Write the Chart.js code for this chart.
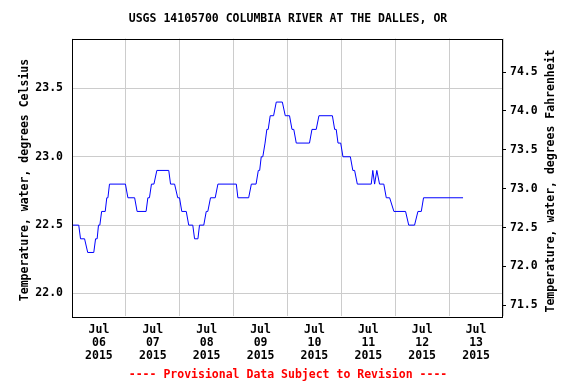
<!DOCTYPE html>
<html>
<head>
<meta charset="utf-8">
<script src="https://cdn.jsdelivr.net/npm/chart.js@4/dist/chart.umd.min.js"></script>
<style>
  body { margin: 0; background: #fff; }
  #chart { display: block; }
</style>
</head>
<body>
<canvas id="chart" width="576" height="384"></canvas>
<script>
// hours after Jul 06 2015 00:00, and water temperature (deg C)
var hours = [0, 3.0, 3.8, 5.6, 7.0, 9.7, 10.5, 11.2, 11.8, 12.4, 13.2, 14.8, 15.5, 16.0, 16.7, 23.8,
  24.9, 27.9, 29.0, 33.0, 33.8, 34.5, 35.4, 36.5, 37.8, 43.1, 43.9, 45.7, 47.1, 47.9,
  48.9, 50.9, 52.0, 53.8, 54.6, 56.1, 56.8, 58.7, 59.8, 60.5, 61.7, 63.8, 65.0, 73.2, 73.9, 78.7,
  79.9, 82.0, 83.0, 83.6, 84.3, 85.0, 86.0, 86.8, 87.4, 88.3, 89.8, 91.0, 93.7, 95.0, 96.9,
  98.0, 98.8, 99.9, 105.8, 106.9, 108.8, 110.0, 116.0, 117.0, 117.7, 118.5, 119.7,
  120.7, 124.0, 125.1, 125.9, 127.1, 133.3, 134.0, 134.8, 135.8, 137.0, 138.9, 140.0, 141.5,
  143.4, 148.6, 150.0, 152.6, 154.1, 155.6, 156.6, 174.2];
var tempC = [22.5, 22.5, 22.4, 22.4, 22.3, 22.3, 22.4, 22.4, 22.5, 22.5, 22.6, 22.6, 22.7, 22.7, 22.8, 22.8,
  22.7, 22.7, 22.6, 22.6, 22.7, 22.7, 22.8, 22.8, 22.9, 22.9, 22.8, 22.8, 22.7, 22.7,
  22.6, 22.6, 22.5, 22.5, 22.4, 22.4, 22.5, 22.5, 22.6, 22.6, 22.7, 22.7, 22.8, 22.8, 22.7, 22.7,
  22.8, 22.8, 22.9, 22.9, 23.0, 23.0, 23.1, 23.2, 23.2, 23.3, 23.3, 23.4, 23.4, 23.3, 23.3,
  23.2, 23.2, 23.1, 23.1, 23.2, 23.2, 23.3, 23.3, 23.2, 23.2, 23.1, 23.1,
  23.0, 23.0, 22.9, 22.9, 22.8, 22.8, 22.9, 22.8, 22.9, 22.8, 22.8, 22.7, 22.7,
  22.6, 22.6, 22.5, 22.5, 22.6, 22.6, 22.7, 22.7];

var dayLabels = ['06', '07', '08', '09', '10', '11', '12', '13'];
var monthLabel = 'Jul';
var yearLabel = '2015';

var titleText = 'USGS 14105700 COLUMBIA RIVER AT THE DALLES, OR';
var noteText = '---- Provisional Data Subject to Revision ----';
var leftTitle = 'Temperature, water, degrees Celsius';
var rightTitle = 'Temperature, water, degrees Fahrenheit';

var fam = '"DejaVu Sans Mono", "Liberation Mono", monospace';
var fnt = { family: fam, size: 11.5, weight: 'bold', lineHeight: 1.2 };

var points = [];
for (var i = 0; i < hours.length; i++) {
  points.push({ x: hours[i], y: tempC[i] });
}

// plot frame plus both axis titles (both read bottom to top)
var frame = {
  id: 'frame',
  afterDraw: function (chart) {
    var a = chart.chartArea, ctx = chart.ctx;
    ctx.save();
    ctx.strokeStyle = '#000';
    ctx.lineWidth = 1;
    ctx.strokeRect(Math.round(a.left) + 0.5, Math.round(a.top) + 0.5,
      Math.round(a.right - a.left) - 1, Math.round(a.bottom - a.top));

    ctx.fillStyle = '#000';
    ctx.font = 'bold 11.5px ' + fam;
    ctx.textAlign = 'center';
    ctx.textBaseline = 'middle';
    ctx.save();
    ctx.translate(25, 180);
    ctx.rotate(-Math.PI / 2);
    ctx.fillText(leftTitle, 0, 0);
    ctx.restore();
    ctx.save();
    ctx.translate(551, 181);
    ctx.rotate(-Math.PI / 2);
    ctx.fillText(rightTitle, 0, 0);
    ctx.restore();
    ctx.restore();
  }
};

var canvas = document.getElementById('chart').getContext('2d');
window.tempChart = new Chart(canvas, {
  type: 'line',
  data: {
    datasets: [{
      data: points,
      borderColor: '#0000ff',
      borderWidth: 1,
      pointRadius: 0,
      tension: 0,
      fill: false
    }]
  },
  options: {
    responsive: false,
    animation: false,
    layout: { padding: 0 },
    plugins: {
      legend: { display: false },
      tooltip: { enabled: false },
      title: {
        display: true, text: titleText, color: '#000', font: fnt,
        padding: { top: 12, bottom: 12.8 }
      },
      subtitle: {
        display: true, position: 'bottom', text: noteText, color: '#ff0000', font: fnt,
        padding: { top: 4, bottom: 2 }
      }
    },
    scales: {
      x: {
        type: 'linear', position: 'bottom', min: 0, max: 192,
        afterFit: function (s) { s.height = 48; },
        afterBuildTicks: function (s) {
          var t = [];
          for (var h = 0; h <= 192; h += 12) t.push({ value: h });
          s.ticks = t;
        },
        border: { display: false },
        grid: {
          drawTicks: false,
          color: function (c) {
            return (c.tick && c.tick.value % 24 === 0) ? '#cccccc' : 'rgba(0,0,0,0)';
          }
        },
        ticks: {
          autoSkip: false, maxRotation: 0, padding: 7.5, color: '#000',
          font: { family: fam, size: 11.5, weight: 'bold', lineHeight: 1.13 },
          callback: function (v) {
            if (v % 24 !== 12) return '';
            var d = dayLabels[(v - 12) / 24];
            return d ? [monthLabel, d, yearLabel] : '';
          }
        }
      },
      y: {
        type: 'linear', position: 'left', min: 21.834, max: 23.864,
        afterFit: function (s) { s.width = 72; },
        border: { display: false },
        grid: { color: '#cccccc', drawTicks: false },
        ticks: {
          stepSize: 0.5, includeBounds: false, padding: 9, color: '#000', font: fnt,
          callback: function (v) { return v.toFixed(1); }
        }
      },
      y2: {
        type: 'linear', position: 'right', min: 71.36, max: 74.93,
        afterFit: function (s) { s.width = 73; },
        border: { display: false },
        grid: { drawOnChartArea: false, drawTicks: true, tickLength: 3, color: '#000' },
        ticks: {
          stepSize: 0.5, includeBounds: false, padding: 4, color: '#000', font: fnt,
          callback: function (v) { return v.toFixed(1); }
        }
      }
    }
  },
  plugins: [frame]
});
</script>
</body>
</html>
